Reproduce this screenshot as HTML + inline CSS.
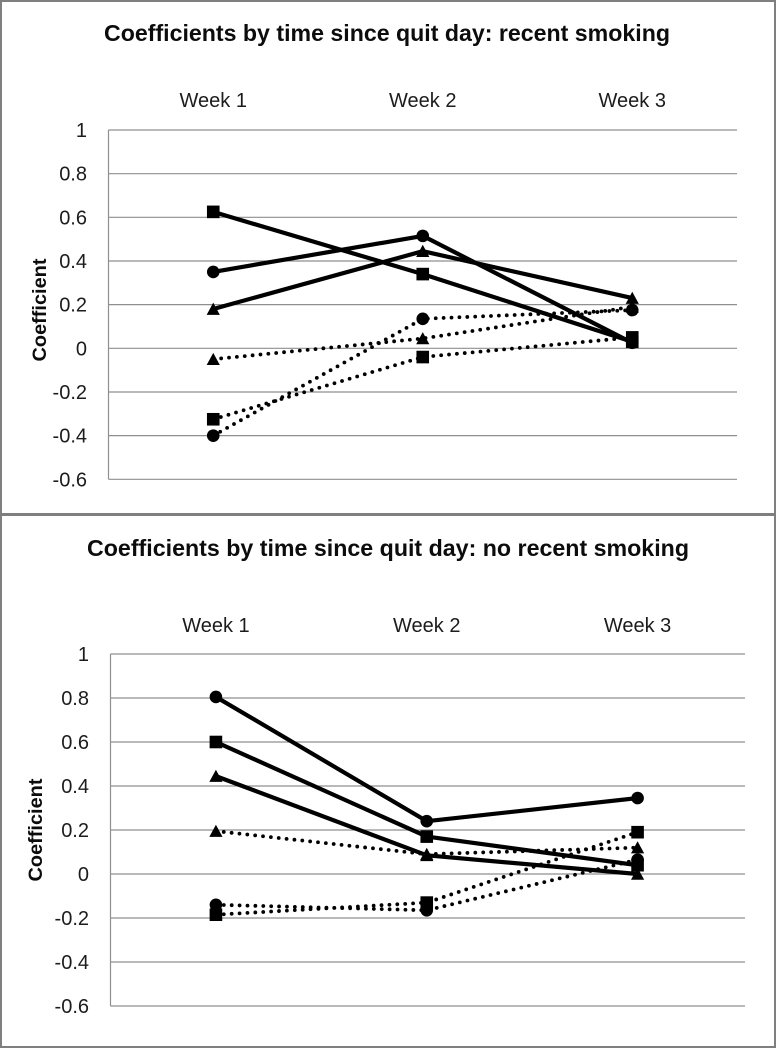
<!DOCTYPE html>
<html lang="en">
<head>
<meta charset="utf-8">
<title>Coefficients by time since quit day</title>
<style>
html,body{margin:0;padding:0;background:#fff;width:776px;height:1048px;overflow:hidden}
svg{display:block}
text{font-family:"Liberation Sans",sans-serif;fill:#1c1c1c}
</style>
</head>
<body>
<svg id="figure" width="776" height="1048" viewBox="0 0 776 1048" xmlns="http://www.w3.org/2000/svg">
  <rect x="0" y="0" width="776" height="1048" fill="#fff"/>
  <text x="387" y="41" text-anchor="middle" font-size="23" font-weight="700" textLength="566" lengthAdjust="spacingAndGlyphs" style="fill:#0c0c0c">Coefficients by time since quit day: recent smoking</text>
  <text x="388" y="556" text-anchor="middle" font-size="23" font-weight="700" textLength="602" lengthAdjust="spacingAndGlyphs" style="fill:#0c0c0c">Coefficients by time since quit day: no recent smoking</text>
  <text transform="translate(46,310) rotate(-90)" text-anchor="middle" font-size="19" font-weight="700" textLength="103" lengthAdjust="spacingAndGlyphs" style="fill:#0c0c0c">Coefficient</text>
  <text transform="translate(42,830) rotate(-90)" text-anchor="middle" font-size="19" font-weight="700" textLength="103" lengthAdjust="spacingAndGlyphs" style="fill:#0c0c0c">Coefficient</text>
  <g id="chart-a"></g>
  <g id="chart-b"></g>
  <g fill="#7f7f7f">
    <rect x="0" y="0" width="776" height="2"/>
    <rect x="0" y="0" width="2" height="1048"/>
    <rect x="774" y="0" width="2" height="1048"/>
    <rect x="0" y="1046" width="776" height="2"/>
    <rect x="0" y="513" width="776" height="3"/>
  </g>
</svg>
<script>
const categories = ['Week 1', 'Week 2', 'Week 3'];
const tickValues = [1, 0.8, 0.6, 0.4, 0.2, 0, -0.2, -0.4, -0.6];
const tickLabels = ['1', '0.8', '0.6', '0.4', '0.2', '0', '-0.2', '-0.4', '-0.6'];

const recentSolidSquare = [0.625, 0.34, 0.03];
const recentSolidCircle = [0.35, 0.515, 0.025];
const recentSolidTriangle = [0.18, 0.445, 0.23];
const recentDottedCircle = [-0.4, 0.135, 0.175];
const recentDottedSquare = [-0.325, -0.04, 0.05];
const recentDottedTriangle = [-0.05, 0.045, 0.19];

const noRecentSolidCircle = [0.805, 0.24, 0.345];
const noRecentSolidSquare = [0.6, 0.17, 0.04];
const noRecentSolidTriangle = [0.445, 0.085, 0];
const noRecentDottedTriangle = [0.195, 0.09, 0.12];
const noRecentDottedCircle = [-0.14, -0.165, 0.065];
const noRecentDottedSquare = [-0.185, -0.13, 0.19];

const NS = 'http://www.w3.org/2000/svg';

function make(parent, tag, attrs) {
  const el = document.createElementNS(NS, tag);
  Object.keys(attrs).forEach(function (k) { el.setAttribute(k, attrs[k]); });
  parent.appendChild(el);
  return el;
}

function drawChart(groupId, frame, seriesList) {
  const group = document.getElementById(groupId);
  const yMax = tickValues[0];
  const yMin = tickValues[tickValues.length - 1];
  const yScale = function (v) {
    return frame.top + (yMax - v) / (yMax - yMin) * (frame.bottom - frame.top);
  };
  const xScale = function (i) {
    return frame.left + (i + 0.5) / categories.length * (frame.catRight - frame.left);
  };

  tickValues.forEach(function (v, i) {
    const y = yScale(v);
    const grid = make(group, 'line', { x1: frame.left, x2: frame.right, y1: y, y2: y, stroke: '#8f8f8f', 'stroke-width': 1.2 });
    
    
    const tick = make(group, 'text', { x: frame.left - 21.5, y: y + 7, 'text-anchor': 'end', 'font-size': 20 });
    
    
    tick.textContent = tickLabels[i];
  });

  const axis = make(group, 'line', { x1: frame.left, x2: frame.left, y1: yScale(yMax), y2: yScale(yMin), stroke: '#8f8f8f', 'stroke-width': 1.2 });
  
  

  categories.forEach(function (c, i) {
    const label = make(group, 'text', { x: xScale(i), y: frame.labelY, 'text-anchor': 'middle', 'font-size': 20 });
    
    
    label.textContent = c;
  });

  seriesList.forEach(function (s) {
    const pts = s.values.map(function (v, i) { return xScale(i).toFixed(1) + ',' + yScale(v).toFixed(1); }).join(' ');
    const lineAttrs = { points: pts, fill: 'none', stroke: '#000' };
    if (s.dotted) {
      lineAttrs['stroke-width'] = 3.8;
      lineAttrs['stroke-linecap'] = 'round';
      lineAttrs['stroke-dasharray'] = '0 7.9';
    } else {
      lineAttrs['stroke-width'] = 4.2;
      lineAttrs['stroke-linejoin'] = 'round';
    }
    const line = make(group, 'polyline', lineAttrs);
    
    

    s.values.forEach(function (v, i) {
      const x = xScale(i);
      const y = yScale(v);
      let m;
      if (s.marker === 'square') {
        m = make(group, 'rect', { x: x - 6.3, y: y - 6.3, width: 12.6, height: 12.6, fill: '#000' });
      } else if (s.marker === 'circle') {
        m = make(group, 'circle', { cx: x, cy: y, r: 6.3, fill: '#000' });
      } else {
        m = make(group, 'polygon', { points: (x - 6.6) + ',' + (y + 5.8) + ' ' + (x + 6.6) + ',' + (y + 5.8) + ' ' + x + ',' + (y - 6.4), fill: '#000' });
      }
      
      
    });
  });
}

drawChart('chart-a', { left: 108.5, right: 737, catRight: 737, top: 130, bottom: 479.3, labelY: 107 }, [
  { values: recentDottedCircle, marker: 'circle', dotted: true },
  { values: recentDottedSquare, marker: 'square', dotted: true },
  { values: recentDottedTriangle, marker: 'triangle', dotted: true },
  { values: recentSolidSquare, marker: 'square', dotted: false },
  { values: recentSolidCircle, marker: 'circle', dotted: false },
  { values: recentSolidTriangle, marker: 'triangle', dotted: false }
]);

drawChart('chart-b', { left: 110.5, right: 745, catRight: 743, top: 654, bottom: 1006, labelY: 632 }, [
  { values: noRecentDottedTriangle, marker: 'triangle', dotted: true },
  { values: noRecentDottedCircle, marker: 'circle', dotted: true },
  { values: noRecentDottedSquare, marker: 'square', dotted: true },
  { values: noRecentSolidCircle, marker: 'circle', dotted: false },
  { values: noRecentSolidSquare, marker: 'square', dotted: false },
  { values: noRecentSolidTriangle, marker: 'triangle', dotted: false }
]);
</script>
</body>
</html>
